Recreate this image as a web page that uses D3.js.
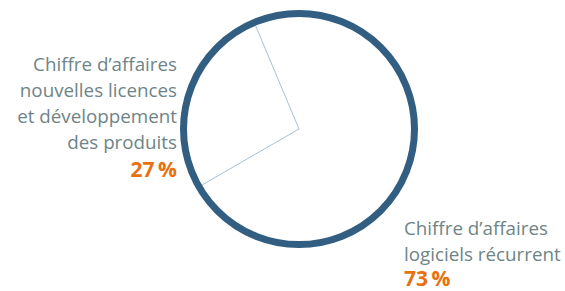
<!DOCTYPE html>
<html>
<head>
<meta charset="utf-8">
<script src="https://cdn.jsdelivr.net/npm/d3@7"></script>
<style>
  body { margin: 0; background: #fff; }
</style>
</head>
<body>
<div id="chart"></div>
<script>
const categories = ["Chiffre d’affaires nouvelles licences et développement des produits", "Chiffre d’affaires logiciels récurrent"];
const values = [27, 73];
const labelLines = [
  ["Chiffre d’affaires", "nouvelles licences", "et développement", "des produits"],
  ["Chiffre d’affaires", "logiciels récurrent"]
];
const percentLabels = ["27\u2009%", "73\u2009%"];

const width = 565, height = 291;
const cx = 299, cy = 129, radius = 115.5;

const svg = d3.select("#chart")
  .append("svg")
  .attr("width", width)
  .attr("height", height);

const g = svg.append("g").attr("transform", "translate(" + cx + "," + cy + ")");

// slices start at 240deg so the small one sits upper-left
const pie = d3.pie()
  .sort(null)
  .startAngle(4 * Math.PI / 3)
  .endAngle(4 * Math.PI / 3 + 2 * Math.PI);

const arcs = pie(values);

// separator lines
g.selectAll("line.sep")
  .data(arcs)
  .enter()
  .append("line")
  .attr("class", "sep")
  .attr("x1", 0)
  .attr("y1", 0)
  .attr("x2", function (d) { return Math.sin(d.startAngle) * radius; })
  .attr("y2", function (d) { return -Math.cos(d.startAngle) * radius; })
  .style("stroke", "#a7c1d1")
  .style("stroke-width", 1);

// outer ring
g.append("circle")
  .attr("r", radius)
  .style("fill", "none")
  .style("stroke", "#325e81")
  .style("stroke-width", 7);

const font = "'Open Sans', sans-serif";

const labelPos = [
  { x: 177, y: 71, anchor: "end", lineH: 26, pctH: 28 },
  { x: 404, y: 235, anchor: "start", lineH: 26, pctH: 25 }
];

labelPos.forEach(function (p, i) {
  const t = svg.append("text")
    .attr("x", p.x)
    .attr("y", p.y)
    .attr("text-anchor", p.anchor)
    .style("font-family", font)
    .style("font-size", "18.8px");
  labelLines[i].forEach(function (line, j) {
    t.append("tspan")
      .attr("x", p.x)
      .attr("dy", j === 0 ? 0 : p.lineH)
      .style("fill", "#6e8487")
      .text(line);
  });
  t.append("tspan")
    .attr("x", p.x)
    .attr("dy", p.pctH)
    .style("fill", "#e8700e")
    .style("font-weight", "bold")
    .style("font-size", "21px")
    .text(percentLabels[i]);
});
</script>
</body>
</html>
